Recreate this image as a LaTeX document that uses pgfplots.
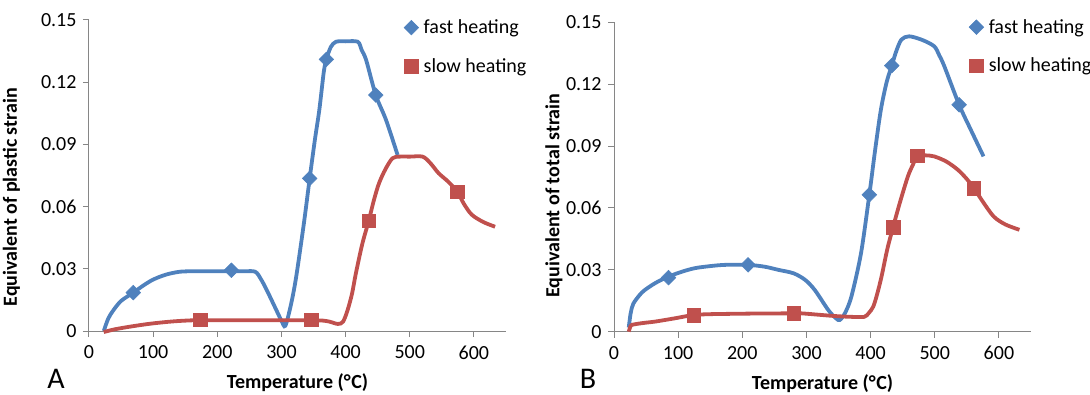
\documentclass[border=0pt]{standalone}
\usepackage{pgfplots}
\pgfplotsset{compat=1.18}
\usepackage{pgfplotstable}
\usepackage{fontspec}
\setmainfont{Carlito}
\definecolor{xblue}{HTML}{4F81BD}
\definecolor{xred}{HTML}{C0504D}
\definecolor{axgray}{HTML}{868686}

% Panel A
\pgfplotstableread{
x y
23 0
30 0.006
38 0.010
50 0.0145
69 0.0185
85 0.022
100 0.0248
120 0.0272
142 0.0286
165 0.0288
200 0.0288
240 0.0288
259 0.0286
268 0.025
277 0.0198
292 0.0101
300 0.005
306 0.0025
315 0.013
323 0.0262
335 0.052
344 0.0736
352 0.092
359 0.1066
366 0.125
370 0.131
377 0.137
385 0.1395
400 0.1397
419 0.1395
425 0.1355
432 0.1307
447 0.1138
463 0.1018
481 0.0849
}\fastA
\pgfplotstableread{
x y
69 0.0185
222 0.0293
344 0.0736
370 0.131
447 0.1138
}\fastAm
\pgfplotstableread{
x y
23 -0.0005
40 0.0008
64 0.0021
95 0.0035
126 0.0045
150 0.005
173 0.0052
250 0.0052
300 0.0052
346 0.0052
365 0.005
375 0.0045
388 0.0034
396 0.0045
403 0.010
410 0.018
416 0.0278
426 0.042
436 0.0531
444 0.063
452 0.0712
462 0.078
473 0.0833
484 0.0841
500 0.0841
520 0.0841
532 0.081
545 0.0761
560 0.072
574 0.0672
585 0.061
597 0.056
615 0.0525
633 0.0503
}\slowA
\pgfplotstableread{
x y
173 0.0055
346 0.0055
436 0.0531
574 0.0672
}\slowAm

% Panel B
\pgfplotstableread{
x y
23 0.002
26 0.009
30 0.0135
40 0.0178
48 0.0202
65 0.0237
85 0.0267
105 0.029
126 0.0308
150 0.0318
173 0.0324
209 0.0324
235 0.0315
256 0.030
280 0.0283
298 0.0251
313 0.0202
334 0.0105
346 0.0065
352 0.0057
360 0.009
370 0.017
385 0.038
398 0.0664
407 0.088
416 0.1076
425 0.121
433 0.129
440 0.136
448 0.1416
460 0.1432
480 0.1415
499 0.1384
507 0.134
515 0.1286
538 0.110
556 0.098
576 0.085
}\fastB
\pgfplotstableread{
x y
85 0.0262
209 0.0324
398 0.0664
433 0.129
538 0.110
}\fastBm
\pgfplotstableread{
x y
23 0
25 0.002
28 0.0033
45 0.0042
64 0.0049
95 0.0065
124 0.0081
150 0.0085
168 0.0086
220 0.0088
280 0.0089
292 0.0089
320 0.0082
344 0.0076
370 0.0072
390 0.0072
397 0.009
404 0.0121
410 0.018
417 0.0267
426 0.04
435 0.0507
446 0.063
458 0.0752
466 0.081
473 0.0853
485 0.0855
499 0.085
518 0.0825
536 0.0785
550 0.074
561 0.0696
575 0.063
592 0.0558
610 0.052
632 0.0494
}\slowB
\pgfplotstableread{
x y
124 0.0081
280 0.0089
435 0.0507
473 0.0853
561 0.0696
}\slowBm

\pgfplotsset{
  panel/.style={
    scale only axis, width=417pt, height=311pt,
    xmin=0, xmax=650, ymin=0, ymax=0.15,
    axis x line*=bottom, axis y line*=left,
    axis line style={draw=axgray, line width=1pt},
    every tick/.style={draw=axgray, line width=1pt},
    tick align=outside, major tick length=6pt,
    xtick={0,100,200,300,400,500,600},
    xticklabels={0,100,200,300,400,500,600},
    ytick={0,0.03,0.06,0.09,0.12,0.15},
    yticklabels={0,0.03,0.06,0.09,0.12,0.15},
    tick label style={font=\fontsize{20}{24}\selectfont, text=black},
    xticklabel style={yshift=-5pt},
    yticklabel style={xshift=-3pt},
    label style={font=\bfseries\fontsize{20}{24}\selectfont},
    xlabel={Temperature (°\kern0.5pt C)},
    clip=false,
    legend cell align=left,
    legend style={draw=none, fill=none, anchor=north west,
      font=\fontsize{20}{24}\selectfont, row sep=21pt, inner sep=0pt,
      nodes={inner sep=1pt},
      /tikz/every odd column/.append style={column sep=4pt}},
  },
  fastline/.style={color=xblue, line width=3.8pt, smooth, tension=0.5, no marks, forget plot},
  slowline/.style={color=xred, line width=3.8pt, smooth, tension=0.5, no marks, forget plot},
  fastmark/.style={only marks, mark=square*, mark size=5.2pt, mark options={rotate=45, fill=xblue, draw=xblue, line width=0.5pt},
     legend image code/.code={\draw[##1] plot coordinates {(0pt,0pt)};}},
  slowmark/.style={only marks, mark=square*, mark size=6.8pt, mark options={fill=xred, draw=xred, line width=0.5pt},
     legend image code/.code={\draw[##1] plot coordinates {(0pt,0pt)};}},
}

\begin{document}
\begin{tikzpicture}
\path[use as bounding box] (0pt,0pt) rectangle (1090pt,394pt);

\begin{axis}[panel, at={(89pt,63pt)}, anchor=south west,
  ylabel={Equivalent of plastic strain},
  ylabel style={at={(axis description cs:-0.186,0.43)}, anchor=center},
  xlabel style={at={(axis description cs:0.5,-0.167)}, anchor=center},
  legend style={at={(axis description cs:0.755,1.004)}}]
\addplot[fastline] table {\fastA};
\addplot[slowline] table {\slowA};
\addplot[fastmark] table {\fastAm};
\addlegendentry{fast heating}
\addplot[slowmark] table {\slowAm};
\addlegendentry{slow heating}
\end{axis}

\begin{axis}[panel, at={(614pt,62.3pt)}, anchor=south west, height=309.4pt,
  ylabel={Equivalent of total strain},
  ylabel style={at={(axis description cs:-0.144,0.44)}, anchor=center},
  xlabel style={at={(axis description cs:0.5,-0.167)}, anchor=center},
  legend style={at={(axis description cs:0.851,1.013)}}]
\addplot[fastline] table {\fastB};
\addplot[slowline] table {\slowB};
\addplot[fastmark] table {\fastBm};
\addlegendentry{fast heating}
\addplot[slowmark] table {\slowBm};
\addlegendentry{slow heating}
\end{axis}

\node[font=\fontsize{30}{34}\selectfont, anchor=center] at (56pt,15.5pt) {A};
\node[font=\fontsize{30}{34}\selectfont, anchor=center] at (588pt,15.5pt) {B};
\end{tikzpicture}
\end{document}
